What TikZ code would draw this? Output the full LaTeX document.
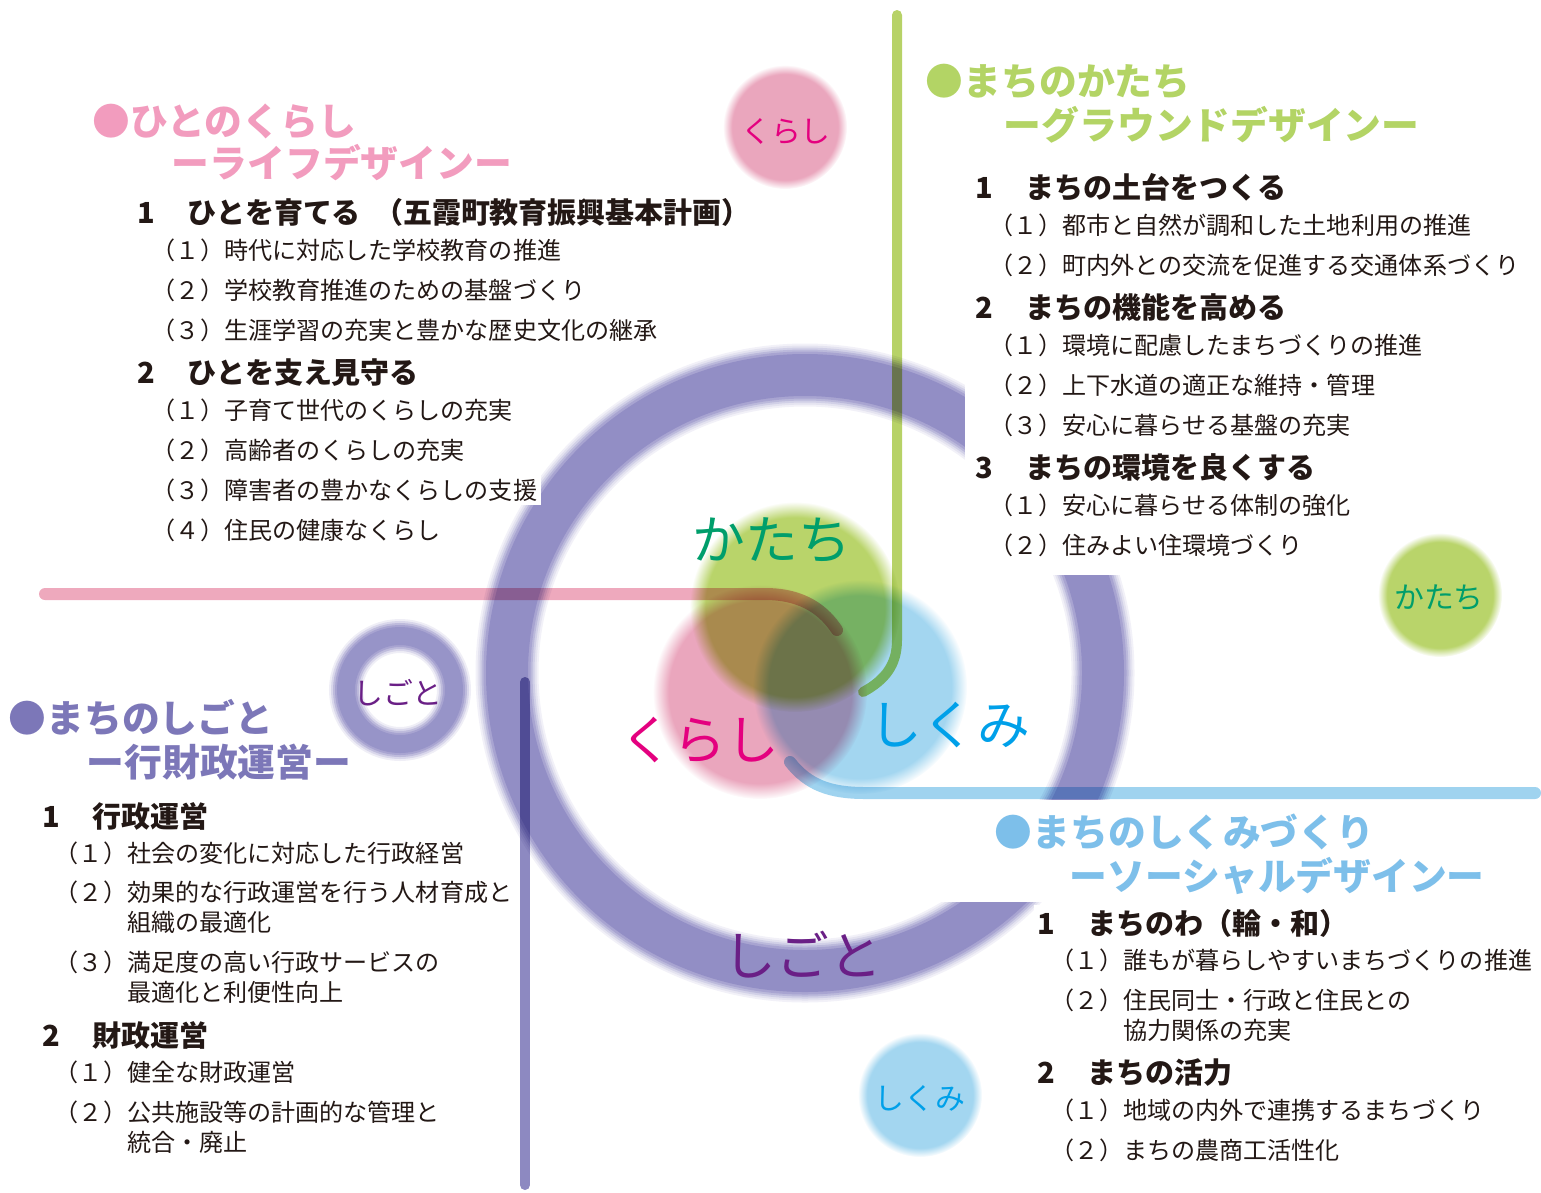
\documentclass[tikz,border=0pt]{standalone}
\usepackage{fontspec}
\setmainfont{Noto Sans CJK JP}
\usetikzlibrary{fadings}
\definecolor{txt}{HTML}{231815}
\definecolor{kurashiC}{HTML}{EAA6BD}
\definecolor{katachiC}{HTML}{B9D46A}
\definecolor{shikumiC}{HTML}{A3D6F0}
\definecolor{shigotoC}{HTML}{928EC5}
\definecolor{kurashiT}{HTML}{E4007F}
\definecolor{katachiT}{HTML}{009E6B}
\definecolor{shikumiT}{HTML}{00A0E9}
\definecolor{shigotoT}{HTML}{6A1F86}
\definecolor{kurashiH}{HTML}{F29CBE}
\definecolor{katachiH}{HTML}{B3D465}
\definecolor{shikumiH}{HTML}{7DBFEA}
\definecolor{shigotoH}{HTML}{7C77B8}
\definecolor{pinkline}{HTML}{EEA9BD}
\definecolor{greenline}{HTML}{B7D267}
\definecolor{blueline}{HTML}{9FD3EF}
\definecolor{purpleline}{HTML}{8D89C1}
\tikzstyle{itemtext} = [anchor=west, inner sep=2pt, fill=white, text=txt, align=left, font=\fontsize{13.7}{17}\selectfont]
\tikzstyle{headtext} = [anchor=west, inner sep=2pt, fill=white, text=txt, font=\bfseries\fontsize{16.5}{18}\selectfont]
\tikzstyle{titletext} = [anchor=west, inner sep=2pt, font=\bfseries\fontsize{21.5}{24}\selectfont]
\tikzstyle{biglabel} = [font=\fontsize{30}{30}\selectfont]
\tikzstyle{smalllabel} = [font=\fontsize{17}{17}\selectfont]
\tikzstyle{blob} = [path fading=circle with fuzzy edge 15 percent]
\tikzstyle{link} = [line cap=round, blend mode=multiply]
\newcommand{\hnum}[1]{\makebox[10mm][l]{#1}}
\newcommand{\indt}{\hphantom{（２）}}

\begin{document}
\begin{tikzpicture}[x=0.2mm, y=-0.2mm]
	\useasboundingbox (0,0) rectangle (1541,1192);

	\begin{scope}[blend group=multiply]
		\fill[katachiC, blob] (795,607) circle[radius=105];
		\fill[kurashiC, blob] (760,692) circle[radius=107];
		\fill[shikumiC, blob] (860,687) circle[radius=107];
	\end{scope}

	\foreach \w/\c in {12.6/12, 11.8/25, 11/42, 10.2/62, 9.4/80, 8.4/100}
		\draw[line width=\w mm, shigotoC!\c] (805,673) circle[radius=298];
	\foreach \w/\c in {6.8/15, 6/35, 5.2/60, 4.4/80, 3.6/95}
		\draw[line width=\w mm, shigotoC!\c] (400,690) circle[radius=54];

	\fill[white] (965,0) rectangle (1541,575);
	\fill[white] (905,800) rectangle (1541,902);

	\coordinate (pinkA) at (45,594);
	\coordinate (pinkB) at (837,630);
	\coordinate (greenA) at (897,15);
	\coordinate (greenB) at (863,692);
	\coordinate (blueA) at (790,762);
	\coordinate (blueB) at (1535,793);
	\coordinate (purpleA) at (525,682);
	\coordinate (purpleB) at (525,1185);
	\draw[link, pinkline, line width=2.4mm] (pinkA) -- (765,594) .. controls (805,594) and (825,612) .. (pinkB);
	\draw[link, greenline, line width=2mm] (greenA) -- (897,640) .. controls (897,665) and (885,680) .. (greenB);
	\draw[link, blueline, line width=2.4mm] (blueA) .. controls (808,785) and (830,793) .. (865,793) -- (blueB);
	\draw[link, purpleline, line width=2mm] (purpleA) -- (purpleB);

	\fill[kurashiC, blob] (785,127) circle[radius=62];
	\fill[katachiC, blob] (1440,595) circle[radius=62];
	\fill[shikumiC, blob] (920,1095) circle[radius=62];

	\node[biglabel, text=katachiT] (katachi) at (772,540) {かたち};
	\node[biglabel, text=kurashiT] (kurashi) at (700,740) {くらし};
	\node[biglabel, text=shikumiT] (shikumi) at (950,725) {しくみ};
	\node[biglabel, text=shigotoT] (shigoto) at (803,955) {しごと};
	\node[smalllabel, text=kurashiT] (kurashiS) at (786,131) {くらし};
	\node[smalllabel, text=katachiT] (katachiS) at (1439,598) {かたち};
	\node[smalllabel, text=shikumiT] (shikumiS) at (920,1098) {しくみ};
	\node[smalllabel, text=shigotoT] (shigotoS) at (398,693) {しごと};

	\node[titletext, text=kurashiH] (hitoT) at (89,122) {●ひとのくらし};
	\node[titletext, text=kurashiH] (hitoS) at (168,163) {ーライフデザインー};
	\node[headtext] (hito1) at (134,212) {\hnum{1}ひとを育てる\hspace{0.45em}（五霞町教育振興基本計画）};
	\node[itemtext] (hito11) at (148,250) {（１）時代に対応した学校教育の推進};
	\node[itemtext] (hito12) at (148,290) {（２）学校教育推進のための基盤づくり};
	\node[itemtext] (hito13) at (148,330) {（３）生涯学習の充実と豊かな歴史文化の継承};
	\node[headtext] (hito2) at (134,373) {\hnum{2}ひとを支え見守る};
	\node[itemtext] (hito21) at (148,410) {（１）子育て世代のくらしの充実};
	\node[itemtext] (hito22) at (148,450) {（２）高齢者のくらしの充実};
	\node[itemtext] (hito23) at (148,490) {（３）障害者の豊かなくらしの支援};
	\node[itemtext] (hito24) at (148,530) {（４）住民の健康なくらし};

	\node[titletext, text=katachiH] (katachiT1) at (922,82) {●まちのかたち};
	\node[titletext, text=katachiH] (katachiT2) at (1000,125) {ーグラウンドデザインー};
	\node[headtext] (katachi1) at (972,187) {\hnum{1}まちの土台をつくる};
	\node[itemtext] (katachi11) at (986,225) {（１）都市と自然が調和した土地利用の推進};
	\node[itemtext] (katachi12) at (986,265) {（２）町内外との交流を促進する交通体系づくり};
	\node[headtext] (katachi2) at (972,307) {\hnum{2}まちの機能を高める};
	\node[itemtext] (katachi21) at (986,345) {（１）環境に配慮したまちづくりの推進};
	\node[itemtext] (katachi22) at (986,385) {（２）上下水道の適正な維持・管理};
	\node[itemtext] (katachi23) at (986,425) {（３）安心に暮らせる基盤の充実};
	\node[headtext] (katachi3) at (972,467) {\hnum{3}まちの環境を良くする};
	\node[itemtext] (katachi31) at (986,505) {（１）安心に暮らせる体制の強化};
	\node[itemtext] (katachi32) at (986,545) {（２）住みよい住環境づくり};

	\node[titletext, text=shigotoH] (shigotoT1) at (5,718) {●まちのしごと};
	\node[titletext, text=shigotoH] (shigotoT2) at (83,762) {ー行財政運営ー};
	\node[headtext] (shigoto1) at (39,816) {\hnum{1}行政運営};
	\node[itemtext] (shigoto11) at (51,853) {（１）社会の変化に対応した行政経営};
	\node[itemtext] (shigoto12) at (51,907) {（２）効果的な行政運営を行う人材育成と\\\indt 組織の最適化};
	\node[itemtext] (shigoto13) at (51,977) {（３）満足度の高い行政サービスの\\\indt 最適化と利便性向上};
	\node[headtext] (shigoto2) at (39,1035) {\hnum{2}財政運営};
	\node[itemtext] (shigoto21) at (51,1072) {（１）健全な財政運営};
	\node[itemtext] (shigoto22) at (51,1127) {（２）公共施設等の計画的な管理と\\\indt 統合・廃止};

	\node[titletext, text=shikumiH] (shikumiT1) at (991,832) {●まちのしくみづくり};
	\node[titletext, text=shikumiH] (shikumiT2) at (1066,876) {ーソーシャルデザインー};
	\node[headtext] (shikumi1) at (1034,923) {\hnum{1}まちのわ（輪・和）};
	\node[itemtext] (shikumi11) at (1047,960) {（１）誰もが暮らしやすいまちづくりの推進};
	\node[itemtext] (shikumi12) at (1047,1015) {（２）住民同士・行政と住民との\\\indt 協力関係の充実};
	\node[headtext] (shikumi2) at (1034,1073) {\hnum{2}まちの活力};
	\node[itemtext] (shikumi21) at (1047,1110) {（１）地域の内外で連携するまちづくり};
	\node[itemtext] (shikumi22) at (1047,1150) {（２）まちの農商工活性化};
\end{tikzpicture}
\end{document}
